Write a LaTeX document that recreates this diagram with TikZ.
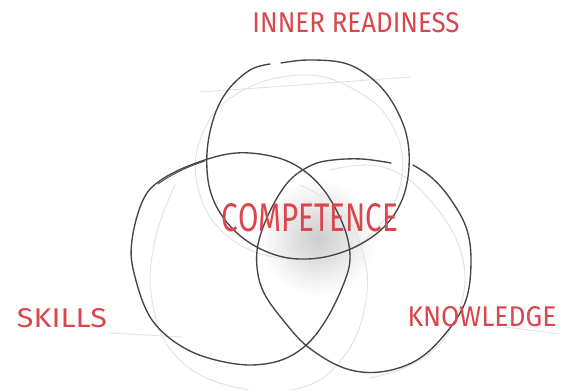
\documentclass[tikz,border=0pt]{standalone}
\usepackage{fontspec}
\setsansfont{Fira Sans}
\usepackage{graphicx}
\definecolor{ink}{HTML}{454545}
\definecolor{faint}{HTML}{E2E2E2}
\definecolor{redink}{HTML}{D9464C}
\tikzset{
  sketch/.style={draw=ink, line width=1.35pt, line cap=round, line join=round},
  guide/.style={draw=faint, line width=0.9pt, line cap=round},
  label/.style={inner sep=0pt, text=redink, font=\sffamily\fontseries{l}\selectfont}
}
\begin{document}
\begin{tikzpicture}[x=1pt,y=-1pt]
\useasboundingbox (0,0) rectangle (568,390);
\fill[white] (0,0) rectangle (568,390);
% central shading
\shade[inner color=gray!40, outer color=white] (318,238) circle (58);
% faint guide strokes
\draw[guide] (200,92) .. controls (300,85) .. (410,77);
\draw[guide] (110,333) -- (182,337);
\draw[guide] (505,327) -- (560,334);
\draw[guide] plot[smooth cycle, tension=0.7] coordinates {(300,75) (355,90) (392,125) (402,175) (380,225) (335,255) (280,258) (230,238) (200,195) (200,140) (235,95)};
\draw[guide] plot[smooth, tension=0.7] coordinates {(175,185) (155,240) (152,300) (175,355) (230,386) (300,388) (345,355) (366,300) (362,250) (340,210) (300,185)};
\draw[guide] plot[smooth, tension=0.7] coordinates {(330,170) (383,167) (430,200) (463,260) (455,320) (420,360) (370,378)};
% top circle (inner readiness)
\draw[sketch] plot[smooth, tension=0.6] coordinates {(281,63) (308,60) (344,63) (370,77) (391,100) (406,133) (409,167) (402,200) (384,227) (355,247) (319,258) (283,257) (250,243) (225,220) (210,190) (207,153) (214,117) (228,90) (250,70) (270,64)};
% left circle (skills)
\draw[sketch] plot[smooth cycle, tension=0.6] coordinates {(161,180) (196,163) (236,153) (275,157) (303,170) (326,193) (344,227) (350,257) (344,283) (326,320) (304,347) (275,362) (236,364) (188,350) (152,320) (134,273) (132,240) (143,200)};
\draw[sketch, line width=0.9pt] (158,184) .. controls (175,172) and (190,166) .. (205,161);
% right circle (knowledge)
\draw[sketch] plot[smooth, tension=0.6] coordinates {(413,165) (431,177) (449,197) (466,227) (471,260) (466,300) (446,333) (417,360) (380,372) (344,368) (308,347) (283,320) (264,293) (257,267) (259,240) (272,207) (290,180) (312,165) (333,160) (362,159) (391,163)};
% labels
\node[label] (inner) at (356,23) {\resizebox{207pt}{20pt}{INNER READINESS}};
\node[label] (comp) at (310,218) {\resizebox{176pt}{28pt}{COMPETENCE}};
\node[label] (skills) at (62,318) {\resizebox{90pt}{19pt}{SKILLS}};
\node[label] (know) at (482,317) {\resizebox{149pt}{20pt}{KNOWLEDGE}};
\end{tikzpicture}
\end{document}
